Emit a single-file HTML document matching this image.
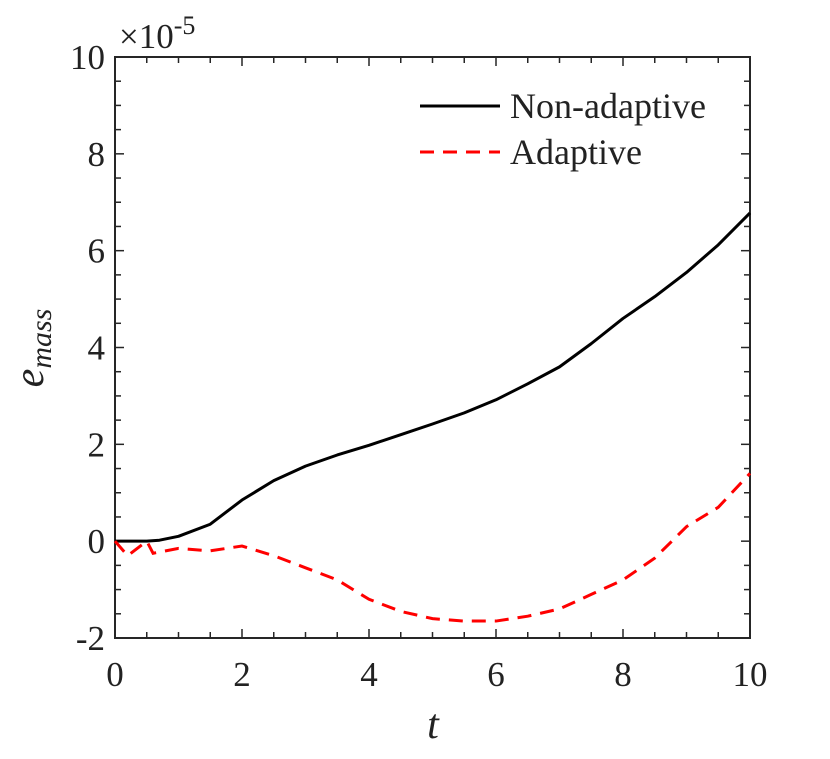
<!DOCTYPE html>
<html><head><meta charset="utf-8"><style>
body{margin:0;background:#fff}
svg text{font-family:"Liberation Serif",serif;fill:#222}
</style></head><body>
<svg id="chart" width="830" height="754" xmlns="http://www.w3.org/2000/svg">
<rect width="830" height="754" fill="#fff"/>
<g id="axes"></g>
<g id="series"></g>
<g>
<line x1="420" y1="106" x2="500" y2="106" stroke="#000" stroke-width="3"/>
<text x="510" y="118" font-size="36">Non-adaptive</text>
<line x1="420" y1="152" x2="500" y2="152" stroke="#f00" stroke-width="3" stroke-dasharray="14,9"/>
<text x="510" y="164" font-size="36">Adaptive</text>
</g>
<text x="119" y="48" font-size="35">×10<tspan dy="-14" font-size="26">-5</tspan></text>
<text x="433" y="738" font-size="42" font-style="italic" text-anchor="middle">t</text>
<text transform="translate(43,348) rotate(-90)" font-size="42" font-style="italic" text-anchor="middle">e<tspan font-size="30" dy="8">mass</tspan></text>
</svg>
<script>
const tValues=[0,0.5,0.7,1,1.5,2,2.5,3,3.5,4,4.5,5,5.5,6,6.5,7,7.5,8,8.5,9,9.5,10];
const nonAdaptive=[0,0,0.02,0.1,0.35,0.85,1.25,1.55,1.78,1.98,2.2,2.42,2.65,2.92,3.25,3.6,4.08,4.6,5.05,5.55,6.12,6.78];
const adaptiveT=[0,0.2,0.5,0.6,1,1.5,2,2.5,3,3.5,4,4.5,5,5.5,6,6.5,7,7.5,8,8.5,9,9.5,10];
const adaptive=[0,-0.3,0,-0.25,-0.15,-0.2,-0.1,-0.3,-0.55,-0.8,-1.2,-1.45,-1.6,-1.65,-1.65,-1.55,-1.4,-1.1,-0.8,-0.35,0.3,0.7,1.4];
const xTicks=[0,2,4,6,8,10];
const yTicks=[-2,0,2,4,6,8,10];
const X0=115,X1=750,Y0=638,Y1=57;
const xs=v=>X0+(v-0)/10*(X1-X0);
const ys=v=>Y0-(v+2)/12*(Y0-Y1);
const NS="http://www.w3.org/2000/svg";
const axes=document.getElementById('axes'),ser=document.getElementById('series');
function mk(tag,attrs,parent){const e=document.createElementNS(NS,tag);for(const k in attrs)e.setAttribute(k,attrs[k]);parent.appendChild(e);return e;}
const box=mk('rect',{x:X0,y:Y1,width:X1-X0,height:Y0-Y1,fill:'none',stroke:'#262626','stroke-width':2},axes);


for(let v=0;v<=10.001;v+=0.5){const x=xs(v),L=Number.isInteger(v/2)?9:6;
 const a=mk('line',{x1:x,y1:Y0,x2:x,y2:Y0-L,stroke:'#262626','stroke-width':1.5},axes);
 
 
 const b=mk('line',{x1:x,y1:Y1,x2:x,y2:Y1+L,stroke:'#262626','stroke-width':1.5},axes);
 
 }
for(let v=-2;v<=10.001;v+=0.5){const y=ys(v),L=Number.isInteger(v/2)?9:6;
 const a=mk('line',{x1:X0,y1:y,x2:X0+L,y2:y,stroke:'#262626','stroke-width':1.5},axes);
 
 
 const b=mk('line',{x1:X1,y1:y,x2:X1-L,y2:y,stroke:'#262626','stroke-width':1.5},axes);
 
 }
xTicks.forEach(v=>{const t=mk('text',{x:xs(v),y:Y0+48,'font-size':35,'text-anchor':'middle'},axes);t.textContent=v;
 
 });
yTicks.forEach(v=>{const t=mk('text',{x:X0-10,y:ys(v)+12,'font-size':35,'text-anchor':'end'},axes);t.textContent=v;
 
 });
const p1=mk('polyline',{points:tValues.map((t,i)=>xs(t)+','+ys(nonAdaptive[i])).join(' '),fill:'none',stroke:'#000','stroke-width':3,'stroke-linejoin':'round'},ser);


const p2=mk('polyline',{points:adaptiveT.map((t,i)=>xs(t)+','+ys(adaptive[i])).join(' '),fill:'none',stroke:'#f00','stroke-width':3,'stroke-dasharray':'14,9'},ser);


</script>
</body></html>
